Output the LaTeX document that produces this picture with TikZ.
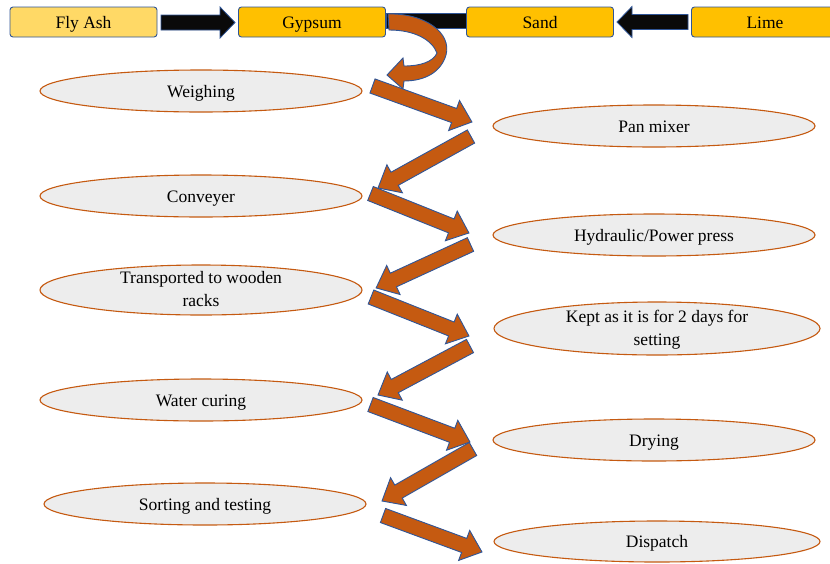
\documentclass[tikz,border=0pt]{standalone}
\usepackage{fontspec}
\setmainfont{Liberation Serif}
\usetikzlibrary{shapes.geometric}
\definecolor{boxgold}{HTML}{FFC000}
\definecolor{boxlight}{HTML}{FFD966}
\definecolor{edgeblue}{HTML}{2F5597}
\definecolor{rust}{HTML}{C55A11}
\definecolor{ellfill}{HTML}{EDEDED}
\definecolor{blackfill}{HTML}{0A0A0A}
% style, x1, y1, x2, y2, shaft half width, head half width, head length
\newcommand\blockarrow[8]{%
  \pgfmathsetmacro\baang{atan2(-(#5-#3),#4-#2)}%
  \pgfmathsetmacro\balen{veclen(#4-#2,#5-#3)}%
  \pgfmathsetmacro\babase{\balen-#8}%
  \begin{scope}[shift={(#2,#3)},rotate=\baang]
    \path[#1] (0,#6) -- (\babase,#6) -- (\babase,#7) -- (\balen,0)
      -- (\babase,-#7) -- (\babase,-#6) -- (0,-#6) -- cycle;
  \end{scope}}
\newcommand\twolines[2]{\raisebox{-5pt}{\def\arraystretch{1.05}\begin{tabular}{@{}c@{}}#1\\#2\end{tabular}}}
\tikzset{
  x=1pt, y=-1pt,
  matbox/.style={rectangle, rounded corners=3pt, draw=edgeblue, line width=0.9pt,
    minimum height=30pt, minimum width=147pt, inner sep=0pt, fill=boxgold,
    text height=12pt, text depth=0pt,
    font=\fontsize{17.5}{22}\selectfont},
  stagebase/.style={ellipse, draw=rust, fill=ellfill, line width=1.1pt,
    minimum width=322pt, minimum height=42pt, inner sep=0pt, align=center,
    font=\fontsize{17.5}{22}\selectfont},
  stage/.style={stagebase, text height=12pt, text depth=0pt},
  stagetwo/.style={stagebase, text height=0pt, text depth=0pt},
  orangearrow/.style={fill=rust, draw=edgeblue, line width=0.9pt, line join=miter},
  blackarrow/.style={fill=blackfill, draw=edgeblue, line width=0.8pt, line join=miter}
}
\begin{document}
\begin{tikzpicture}
\useasboundingbox (0,0) rectangle (830,563);
% black bar between Gypsum and Sand
\path[blackarrow] (386,13) rectangle (467,28);
% material boxes
\node[matbox, fill=boxlight] (flyash) at (83.5,22) {Fly Ash};
\node[matbox] (gypsum) at (312,22) {Gypsum};
\node[matbox] (sand) at (540,22) {Sand};
\begin{scope}
  \clip (0,0) rectangle (830,563);
  \node[matbox] (lime) at (765,22) {Lime};
\end{scope}
% black block arrows
\blockarrow{blackarrow}{161}{22.5}{235}{22.5}{7.5}{15.5}{15}
\blockarrow{blackarrow}{688}{22}{617}{22}{7.5}{15.5}{15}
% curved orange arrow from Gypsum
\path[orangearrow] (388,14) .. controls (425,13) and (452,33) .. (446,55)
  .. controls (441,72) and (425,81) .. (404,81) -- (403,89) -- (387,75)
  -- (403,58) -- (404,66) .. controls (420,66) and (433,62) .. (437,53)
  .. controls (432,40) and (415,30) .. (389,30) -- cycle;
% process stages
\node[stage] (weigh) at (201,91) {Weighing};
\node[stage] (pan) at (654,126) {Pan mixer};
\node[stage] (conv) at (201,196) {Conveyer};
\node[stage] (press) at (654,235) {Hydraulic/Power press};
\node[stagetwo, minimum height=50pt] (racks) at (201,290) {\twolines{Transported to wooden}{racks}};
\node[stagetwo, minimum width=326pt, minimum height=53pt] (kept) at (657,328.5) {\twolines{Kept as it is for 2 days for}{setting}};
\node[stage] (water) at (201,400) {Water curing};
\node[stage] (dry) at (654,440) {Drying};
\node[stage] (sort) at (205,504) {Sorting and testing};
\node[stage, minimum width=326pt, minimum height=41pt] (disp) at (657,541.5) {Dispatch};
% zig-zag block arrows
\blockarrow{orangearrow}{372.5}{86}{472}{122}{7.5}{16}{19}
\blockarrow{orangearrow}{471}{136.5}{378}{188}{7.5}{16}{19}
\blockarrow{orangearrow}{370.5}{193.5}{469}{233}{7.5}{16}{19}
\blockarrow{orangearrow}{470.5}{244.5}{376}{288}{7.5}{16}{19}
\blockarrow{orangearrow}{371}{297}{469}{336}{7.5}{16}{19}
\blockarrow{orangearrow}{470}{346}{378}{395}{7.5}{16}{19}
\blockarrow{orangearrow}{370.5}{404.5}{470}{442}{7.5}{16}{19}
\blockarrow{orangearrow}{473}{449}{382}{501}{7.5}{16}{19}
\blockarrow{orangearrow}{383}{515.5}{482}{552}{7.5}{16}{19}
\end{tikzpicture}
\end{document}
